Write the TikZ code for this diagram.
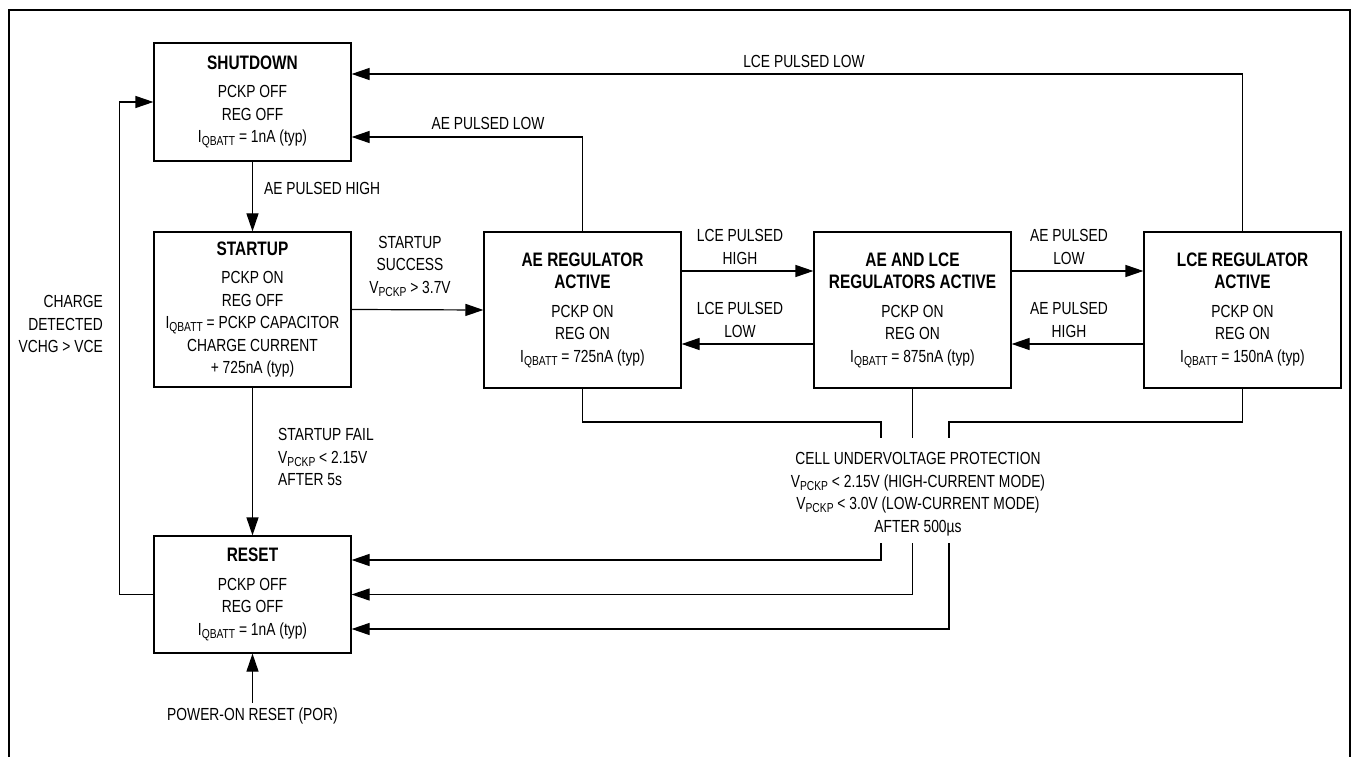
\documentclass[tikz,border=0pt]{standalone}
\usepackage{fontspec}
\setmainfont{Liberation Sans}[FakeStretch=0.79]
\usetikzlibrary{arrows.meta}
\newcommand\sbs[1]{\raisebox{-3pt}{\fontsize{13}{13}\selectfont #1}}
\newcommand\ttl[1]{{\fontsize{19.5}{22.5}\selectfont\bfseries #1}}
\tikzset{
  box/.style={draw, line width=1.2pt, minimum width=197pt, minimum height=156pt, inner sep=0pt, align=center},
  lbl/.style={inner sep=0pt, align=center},
  conn/.style={line width=1.2pt},
  arr/.style={conn, -{Triangle[length=18pt,width=12pt]}},
}
\begin{document}
\begin{tikzpicture}[x=1pt,y=-1pt, font=\fontsize{17.5}{22.5}\selectfont]
\useasboundingbox (0,0) rectangle (1353,757);
% frame
\draw[line width=2pt] (9,760) -- (9,10) -- (1350,10) -- (1350,760);
% boxes
\node[box, minimum height=118pt] (sd) at (252.5,102) {\ttl{SHUTDOWN}\\[6pt]PCKP OFF\\REG OFF\\I\sbs{QBATT} = 1nA (typ)};
\node[box, minimum height=155pt] (su) at (252.5,309.5) {\ttl{STARTUP}\\[6pt]PCKP ON\\REG OFF\\I\sbs{QBATT} = PCKP CAPACITOR\\CHARGE CURRENT\\+ 725nA (typ)};
\node[box, minimum height=117pt] (rs) at (252.5,594.5) {\ttl{RESET}\\[6pt]PCKP OFF\\REG OFF\\I\sbs{QBATT} = 1nA (typ)};
\node[box] (ae) at (582.5,310) {\ttl{AE REGULATOR}\\\ttl{ACTIVE}\\[6pt]PCKP ON\\REG ON\\I\sbs{QBATT} = 725nA (typ)};
\node[box] (al) at (912.5,310) {\ttl{AE AND LCE}\\\ttl{REGULATORS ACTIVE}\\[6pt]PCKP ON\\REG ON\\I\sbs{QBATT} = 875nA (typ)};
\node[box] (lc) at (1242.5,310) {\ttl{LCE REGULATOR}\\\ttl{ACTIVE}\\[6pt]PCKP ON\\REG ON\\I\sbs{QBATT} = 150nA (typ)};
% labels
\node[lbl, anchor=west] (l1) at (264,188) {AE PULSED HIGH};
\node[lbl] (l2) at (410,266) {STARTUP\\SUCCESS\\V\sbs{PCKP} > 3.7V};
\node[lbl, anchor=west, align=left] (l3) at (278,457) {STARTUP FAIL\\V\sbs{PCKP} < 2.15V\\AFTER 5s};
\node[lbl, anchor=east, align=right] (l4) at (103,324) {CHARGE\\DETECTED\\VCHG > VCE};
\node[lbl] (l5) at (488,123) {AE PULSED LOW};
\node[lbl] (l6) at (804,61) {LCE PULSED LOW};
\node[lbl] (l7) at (740,247) {LCE PULSED\\HIGH};
\node[lbl] (l8) at (740,320) {LCE PULSED\\LOW};
\node[lbl] (l9) at (1069,247) {AE PULSED\\LOW};
\node[lbl] (l10) at (1069,320) {AE PULSED\\HIGH};
\node[lbl] (uv) at (918,494) {CELL UNDERVOLTAGE PROTECTION\\V\sbs{PCKP} < 2.15V (HIGH-CURRENT MODE)\\V\sbs{PCKP} < 3.0V (LOW-CURRENT MODE)\\AFTER 500µs};
\node[lbl] (por) at (252.5,716) {POWER-ON RESET (POR)};
% coordinates
\coordinate (j1) at (881,422);
\coordinate (t1) at (881,438);
\coordinate (b1) at (881,543);
\coordinate (t2) at (912.5,438);
\coordinate (b2) at (912.5,543);
\coordinate (j3) at (949,422);
\coordinate (t3) at (949,438);
\coordinate (b3) at (949,543);
% connectors
\draw[arr] (sd) -- (su);
\draw[arr] (su) -- (rs);
\draw[arr] (su.east) -- (ae.west);
\draw[arr] (ae.north) |- ([yshift=-35pt]sd.east);
\draw[arr] (lc.north) |- ([yshift=28pt]sd.east);
\draw[arr] ([yshift=39pt]ae.east) -- ([yshift=39pt]al.west);
\draw[arr] ([yshift=-34pt]al.west) -- ([yshift=-34pt]ae.east);
\draw[arr] ([yshift=39pt]al.east) -- ([yshift=39pt]lc.west);
\draw[arr] ([yshift=-34pt]lc.west) -- ([yshift=-34pt]al.east);
\draw[arr] (rs.west) -- ++(-34,0) |- (sd.west);
\draw[arr] ([yshift=5pt]por.north) -- (rs.south);
\draw[conn] (ae.south) |- (j1) -- (t1);
\draw[arr] (b1) |- ([yshift=34.5pt]rs.east);
\draw[conn] (al.south) -- (t2);
\draw[arr] (b2) |- (rs.east);
\draw[conn] (lc.south) |- (j3) -- (t3);
\draw[arr] (b3) |- ([yshift=-34.5pt]rs.east);
\end{tikzpicture}
\end{document}
